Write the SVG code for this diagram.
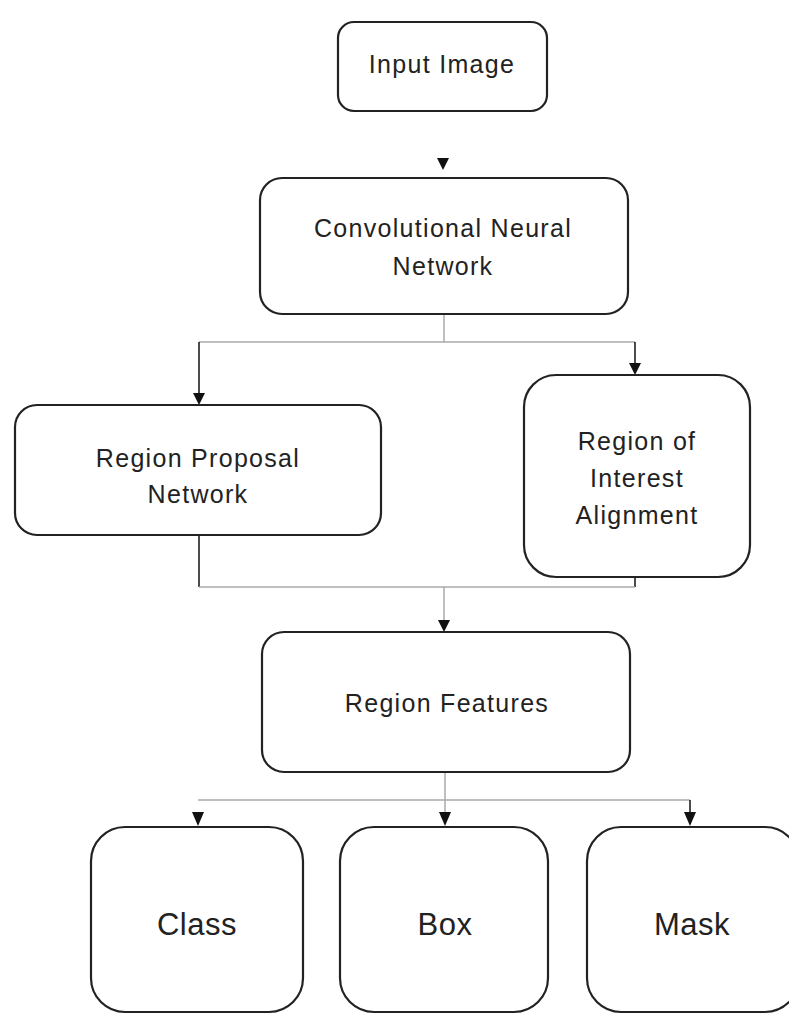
<svg xmlns="http://www.w3.org/2000/svg" width="789" height="1014" viewBox="0 0 789 1014">
<defs>
<style>
.box{fill:#fff;stroke:#222;stroke-width:2.2}
.t{font-family:"Liberation Sans",Arial,sans-serif;font-size:25px;fill:#222;text-anchor:middle;letter-spacing:1.3px}
.big{font-size:31px;letter-spacing:0.5px}
.g{stroke:#aaa;stroke-width:1.5;fill:none}
.k{stroke:#111;stroke-width:1.5;fill:none}
.ah{fill:#111}
</style>
</defs>
<rect width="789" height="1014" fill="#fff"/>
<g id="connectors">
<path class="ah" d="M437,158 L449,158 L443,170 Z"/>
<line class="g" x1="444" y1="314" x2="444" y2="342"/>
<line class="g" x1="199" y1="342" x2="635" y2="342"/>
<line class="k" x1="199" y1="342" x2="199" y2="395"/>
<path class="ah" d="M193,393 L205,393 L199,405 Z"/>
<line class="k" x1="635" y1="342" x2="635" y2="365"/>
<path class="ah" d="M629,363 L641,363 L635,375 Z"/>
<line class="k" x1="199" y1="535" x2="199" y2="587"/>
<line class="k" x1="635" y1="577" x2="635" y2="587"/>
<line class="g" x1="199" y1="587" x2="635" y2="587"/>
<line class="g" x1="444" y1="587" x2="444" y2="622"/>
<path class="ah" d="M438,620 L450,620 L444,632 Z"/>
<line class="g" x1="445" y1="772" x2="445" y2="818"/>
<line class="g" x1="198" y1="800" x2="690" y2="800"/>
<line class="k" x1="690" y1="800" x2="690" y2="818"/>
<path class="ah" d="M192,812 L204,812 L198,826 Z"/>
<path class="ah" d="M439,812 L451,812 L445,826 Z"/>
<path class="ah" d="M684,812 L696,812 L690,826 Z"/>
</g>
<g id="input-image">
<rect class="box" x="338" y="22" width="209" height="89" rx="16"/>
<text class="t" x="442" y="73">Input Image</text>
</g>
<g id="cnn">
<rect class="box" x="260" y="178" width="368" height="136" rx="22"/>
<text class="t" x="443" y="237">Convolutional Neural</text>
<text class="t" x="443" y="275">Network</text>
</g>
<g id="rpn">
<rect class="box" x="15" y="405" width="366" height="130" rx="22"/>
<text class="t" x="198" y="467">Region Proposal</text>
<text class="t" x="198" y="503">Network</text>
</g>
<g id="roi">
<rect class="box" x="524" y="375" width="226" height="202" rx="32"/>
<text class="t" x="637" y="450">Region of</text>
<text class="t" x="637" y="487">Interest</text>
<text class="t" x="637" y="524">Alignment</text>
</g>
<g id="region-features">
<rect class="box" x="262" y="632" width="368" height="140" rx="22"/>
<text class="t" x="447" y="712">Region Features</text>
</g>
<g id="class">
<rect class="box" x="91" y="827" width="212" height="185" rx="34"/>
<text class="t big" x="197" y="935">Class</text>
</g>
<g id="box">
<rect class="box" x="340" y="827" width="208" height="185" rx="34"/>
<text class="t big" x="445" y="935">Box</text>
</g>
<g id="mask">
<rect class="box" x="587" y="827" width="212" height="185" rx="34"/>
<text class="t big" x="692" y="935">Mask</text>
</g>
</svg>
